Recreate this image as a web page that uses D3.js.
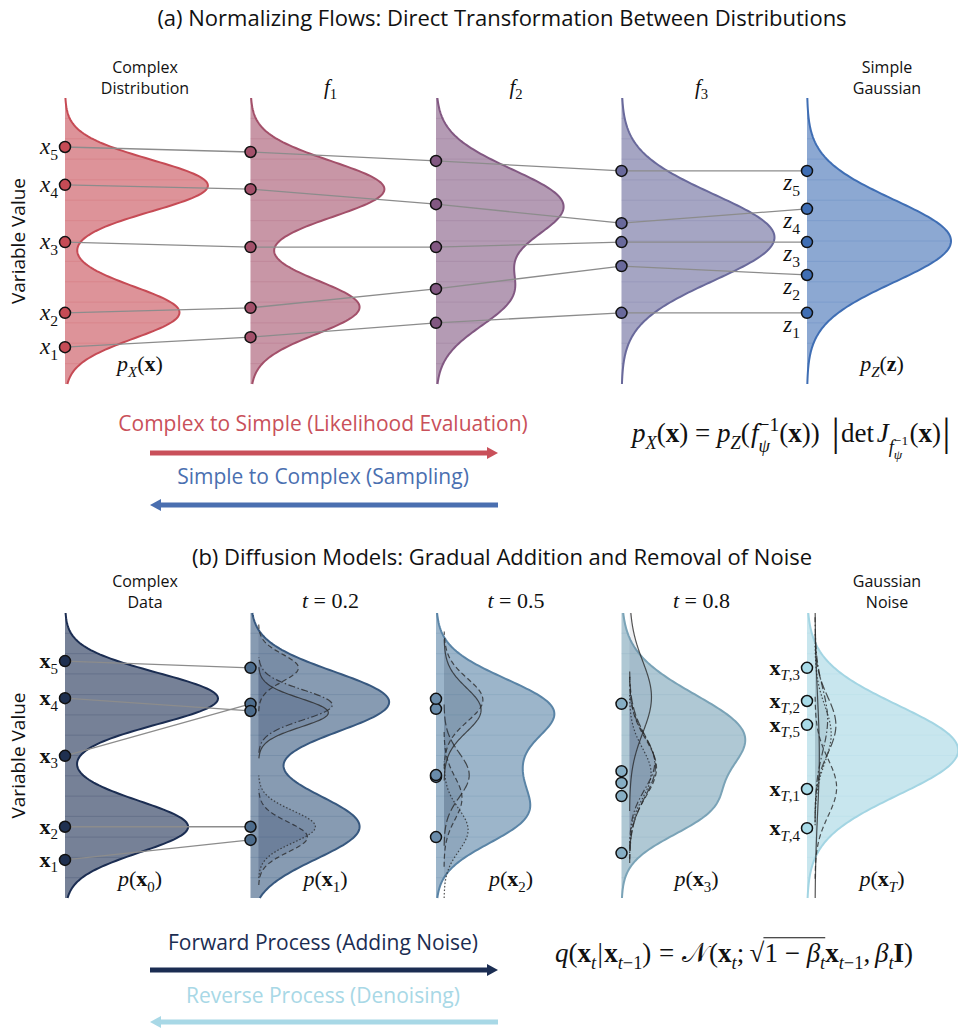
<!DOCTYPE html>
<html>
<head>
<meta charset="utf-8">
<script src="https://cdn.jsdelivr.net/npm/d3@7"></script>
<style>
  body { margin: 0; background: #fff; }
</style>
</head>
<body>
<svg id="fig" width="958" height="1030"></svg>
<script>
// ---------- data ----------
// density components per column: [amplitude, mean, sd]
const flowDensities = [
  [[0.397, 1.55, 0.72], [0.318, -2.0, 0.72]],
  [[0.372, 1.45, 0.78], [0.303, -1.85, 0.75]],
  [[0.35, 1.0, 1.0], [0.2, -1.5, 0.9]],
  [[0.425, 0.1, 1.2]],
  [[0.4, 0.0, 1.15]]
];
const diffDensities = [
  [[0.425, 1.6, 0.72], [0.342, -2.0, 0.72]],
  [[0.385, 1.5, 0.85], [0.303, -2.0, 0.9]],
  [[0.32, 1.25, 0.9], [0.23, -1.7, 0.8], [0.12, -0.4, 0.7]],
  [[0.34, 0.5, 1.2], [0.17, -1.6, 0.75]],
  [[0.42, 0.15, 1.25]]
];
// sample positions (samples 1..5) in each column
const flowPoints = [
  [-2.97, -2.01, -0.03, 1.57, 2.63],
  [-2.69, -1.87, -0.17, 1.45, 2.49],
  [-2.29, -1.34, -0.17, 1.03, 2.24],
  [-2.01, -0.70, -0.03, 0.50, 1.96],
  [-2.01, -0.95, -0.03, 0.90, 1.96]
];
const diffPoints = [
  [-2.93, -2.0, -0.01, 1.61, 2.65],
  [-2.37, -2.0, 1.45, 1.25, 2.46],
  [-0.6, -2.29, -0.55, 1.31, 1.59],
  [-1.14, -2.74, -0.77, -0.44, 1.45],
  [-0.94, 1.53, 2.46, -2.04, 0.86]
];
// per-sample noise bumps in diffusion columns 1..4: [amplitude, mean, sd, lineStyle]
const diffBumps = [
  [],
  [[0.136, -2.29, 0.42, 1], [0.158, -2.0, 0.45, 3], [0.205, 1.42, 0.42, 2], [0.194, 1.2, 0.4, 0], [0.111, 2.46, 0.38, 1]],
  [[0.05, -1.2, 0.6, 1], [0.067, -2.09, 0.6, 3], [0.07, -0.55, 0.62, 4], [0.103, 1.28, 0.62, 0], [0.108, 1.56, 0.6, 1]],
  [[0.072, -0.3, 0.85, 4], [0.06, -0.5, 0.7, 3], [0.07, -0.2, 0.75, 2], [0.061, 1.64, 1.0, 0], [0.075, -0.35, 0.8, 1]],
  [[0.012, 0.0, 1.6, 0], [0.06, -0.9, 0.8, 1], [0.035, 1.0, 0.9, 2], [0.045, 0.6, 0.8, 3], [0.058, 0.85, 0.8, 4]]
];
const bumpFillOpacity = [0, 0.12, 0.1, 0.07, 0.04];
const gridVals = [-3.43, -2.86, -2.29, -1.71, -1.14, -0.57, 0, 0.57, 1.14, 1.71, 2.29, 2.86, 3.43];
const flowHeaders = [["Complex", "Distribution"], "1", "2", "3", ["Simple", "Gaussian"]];
const diffHeaders = [["Complex", "Data"], "0.2", "0.5", "0.8", ["Gaussian", "Noise"]];
const diffSubs = ["0", "1", "2", "3", "T"];
const sampleIds = ["1", "2", "3", "4", "5"];

// ---------- styling ----------
const serif = "'Liberation Serif', 'Times New Roman', serif";
const sans = "'Open Sans', 'DejaVu Sans', sans-serif";
const flowColors = ["#c64b55", "#a3506a", "#825882", "#69699b", "#3f6eb4"];
const diffColors = ["#1b2d52", "#37587f", "#5a84a6", "#7aa3b7", "#a3d5e3"];
const diffPointColors = ["#1f3050", "#4d6c8c", "#6a8cab", "#86aec4", "#a8dbe8"];
const dashes = ["none", "5,3", "7,2.5,1.5,2.5", "1.5,2", "9,3"];

const svg = d3.select("#fig");
const xa = d3.scalePoint().domain(d3.range(5)).range([65, 807]);
const ya = d3.scaleLinear().domain([-4, 4]).range([384, 98]);
const yb = d3.scaleLinear().domain([-4, 4]).range([898, 613]);
const w = d3.scaleLinear().domain([0, 0.4]).range([0, 144]);
const vals = d3.range(-4, 4.0001, 0.04);

const dens = (comps, v) => d3.sum(comps, c => c[0] * Math.exp(-0.5 * ((v - c[1]) / c[2]) ** 2));

function mathText(parent, x, y, size, parts, anchor, color) {
  const t = parent.append("text").attr("x", x).attr("y", y)
    .attr("font-family", serif).attr("font-size", size)
    .attr("text-anchor", anchor || "start").attr("fill", color || "#111");
  let cur = 0, prevLen = 0, pending = 0;
  const nodes = [];
  parts.forEach(p => {
    const off = (p.o || 0) * size;
    const ts = t.append("tspan").text(p.t)
      .attr("font-size", (p.s || 1) * size)
      .attr("dy", off - cur);
    cur = off;
    if (p.i) ts.attr("font-style", "italic");
    if (p.b) ts.attr("font-weight", "bold");
    if (p.f) ts.attr("font-family", p.f);
    let dx = (p.dx || 0) * size + pending;
    pending = 0;
    if (p.under) dx -= prevLen;
    ts.attr("dx", dx);
    const len = ts.node().getComputedTextLength();
    if (p.under) pending = Math.max(0, prevLen - len);
    prevLen = len;
    nodes.push(ts.node());
  });
  return nodes;
}

function sansText(parent, x, y, size, str, anchor, color) {
  return parent.append("text").attr("x", x).attr("y", y)
    .attr("font-family", sans).attr("font-size", size)
    .attr("text-anchor", anchor || "middle").attr("fill", color || "#111").text(str);
}

function drawColumn(g, i, comps, color, y, op) {
  const x0 = xa(i);
  const fx = v => x0 + w(dens(comps, v));
  g.append("path").datum(vals)
    .attr("d", d3.area().y(v => y(v)).x0(x0).x1(fx))
    .attr("fill", color).attr("fill-opacity", op);
  g.selectAll(null).data(gridVals).join("line")
    .attr("x1", x0).attr("x2", fx)
    .attr("y1", v => y(v)).attr("y2", v => y(v))
    .attr("stroke", color).attr("stroke-opacity", 0.18).attr("stroke-width", 1);
  g.append("path").datum(vals)
    .attr("d", d3.line().y(v => y(v)).x(fx))
    .attr("fill", "none").attr("stroke", color).attr("stroke-width", 2);
}

function drawBumps(g, i, bumps, y) {
  const base = xa(i) + 8;
  bumps.forEach(([a, m, s, st]) => {
    const lo = Math.max(-4, m - 3.2 * s), hi = Math.min(4, m + 3.2 * s);
    const vs = d3.range(lo, hi, 0.02).concat([hi]);
    const f = v => base + w(a * Math.exp(-0.5 * ((v - m) / s) ** 2));
    g.append("path").datum(vs)
      .attr("d", d3.area().y(v => y(v)).x0(base).x1(f))
      .attr("fill", "#1b2d52").attr("fill-opacity", bumpFillOpacity[i]);
    g.append("path").datum(vs)
      .attr("d", d3.line().y(v => y(v)).x(f))
      .attr("fill", "none").attr("stroke", "#2b2b2b").attr("stroke-width", 1.2)
      .attr("stroke-opacity", 0.8).attr("stroke-dasharray", dashes[st]);
  });
}

function drawLinks(g, pts, y, upto) {
  for (let c = 0; c < upto; c++) {
    pts[c].forEach((v, k) => {
      g.append("line")
        .attr("x1", xa(c)).attr("y1", y(v))
        .attr("x2", xa(c + 1)).attr("y2", y(pts[c + 1][k]))
        .attr("stroke", "#8c8c8c").attr("stroke-width", 1.3);
    });
  }
}

function drawPoints(g, pts, y, fills) {
  pts.forEach((col, c) => {
    g.selectAll(null).data(col).join("circle")
      .attr("cx", xa(c)).attr("cy", v => y(v)).attr("r", 5.5)
      .attr("fill", fills[c]).attr("stroke", "#111").attr("stroke-width", 1.5);
  });
}

function arrow(g, y, xl, xr, dir, color) {
  const tipX = dir > 0 ? xr : xl;
  const baseX = tipX - dir * 11;
  g.append("line").attr("x1", dir > 0 ? xl : baseX).attr("x2", dir > 0 ? baseX : xr)
    .attr("y1", y).attr("y2", y).attr("stroke", color).attr("stroke-width", 5);
  g.append("path")
    .attr("d", d3.line()([[tipX, y], [baseX, y - 6], [baseX, y + 6]]) + "Z")
    .attr("fill", color);
}

// ---------- panel (a) ----------
const ga = svg.append("g");
sansText(ga, 502, 26, 22, "(a) Normalizing Flows: Direct Transformation Between Distributions");
ga.append("text").attr("transform", `translate(25,${ya(0)}) rotate(-90)`)
  .attr("font-family", sans).attr("font-size", 19).attr("text-anchor", "middle")
  .attr("fill", "#111").text("Variable Value");

flowDensities.forEach((comps, i) => drawColumn(ga, i, comps, flowColors[i], ya, 0.6));
drawLinks(ga, flowPoints, ya, 4);
drawPoints(ga, flowPoints, ya, flowColors);

flowHeaders.forEach((h, i) => {
  const cx = xa(i) + 80;
  if (Array.isArray(h)) {
    sansText(ga, cx, 73, 16, h[0]);
    sansText(ga, cx, 94, 16, h[1]);
  } else {
    mathText(ga, cx, 94, 21, [{ t: "f", i: 1 }, { t: h, s: 0.7, o: 0.25 }], "middle");
  }
});

flowPoints[0].forEach((v, k) =>
  mathText(ga, xa(0) - 7, ya(v) + 7, 23, [{ t: "x", i: 1 }, { t: sampleIds[k], s: 0.68, o: 0.25 }], "end"));
flowPoints[4].forEach((v, k) =>
  mathText(ga, xa(4) - 7, ya(v) + 19, 23, [{ t: "z", i: 1 }, { t: sampleIds[k], s: 0.68, o: 0.25 }], "end"));

mathText(ga, xa(0) + 75, 371, 22,
  [{ t: "p", i: 1 }, { t: "X", i: 1, s: 0.68, o: 0.25 }, { t: "(" }, { t: "x", b: 1 }, { t: ")" }], "middle");
mathText(ga, xa(4) + 75, 371, 22,
  [{ t: "p", i: 1 }, { t: "Z", i: 1, s: 0.68, o: 0.25 }, { t: "(" }, { t: "z", b: 1 }, { t: ")" }], "middle");

sansText(ga, 323, 431, 21, "Complex to Simple (Likelihood Evaluation)", "middle", "#c9505a");
arrow(ga, 453, 150, 498, 1, "#c9505a");
sansText(ga, 323, 484, 21, "Simple to Complex (Sampling)", "middle", "#4a6fb0");
arrow(ga, 505, 150, 498, -1, "#4a6fb0");

mathText(ga, 632, 442, 27, [
  { t: "p", i: 1 }, { t: "X", i: 1, s: 0.68, o: 0.25 }, { t: "(" }, { t: "x", b: 1 }, { t: ")" },
  { t: "=", dx: 0.25 }, { t: "p", i: 1, dx: 0.25 }, { t: "Z", i: 1, s: 0.68, o: 0.25 }, { t: "(" }, { t: "f", i: 1, dx: 0.05 },
  { t: "\u22121", s: 0.72, o: -0.42 }, { t: "\u03c8", i: 1, s: 0.68, o: 0.36, under: 1 },
  { t: "(" }, { t: "x", b: 1 }, { t: "))" },
  { t: "|", s: 1.45, o: 0.1, dx: 0.45 }, { t: "det", dx: 0.05 }, { t: "J", i: 1, dx: 0.1 },
  { t: "f", i: 1, s: 0.68, o: 0.4 }, { t: "\u22121", s: 0.5, o: 0.12 },
  { t: "\u03c8", i: 1, s: 0.5, o: 0.62, under: 1 },
  { t: "(", dx: 0.05 }, { t: "x", b: 1 }, { t: ")" }, { t: "|", s: 1.45, o: 0.1, dx: 0.05 }
]);

// ---------- panel (b) ----------
const gb = svg.append("g");
sansText(gb, 502, 565, 22, "(b) Diffusion Models: Gradual Addition and Removal of Noise");
gb.append("text").attr("transform", `translate(25,${yb(0)}) rotate(-90)`)
  .attr("font-family", sans).attr("font-size", 19).attr("text-anchor", "middle")
  .attr("fill", "#111").text("Variable Value");

diffDensities.forEach((comps, i) => drawColumn(gb, i, comps, diffColors[i], yb, 0.6));
diffBumps.forEach((b, i) => drawBumps(gb, i, b, yb));
drawLinks(gb, diffPoints, yb, 1);
drawPoints(gb, diffPoints, yb, diffPointColors);

diffHeaders.forEach((h, i) => {
  const cx = xa(i) + 80;
  if (Array.isArray(h)) {
    sansText(gb, cx, 587, 16, h[0]);
    sansText(gb, cx, 608, 16, h[1]);
  } else {
    mathText(gb, cx, 608, 22, [{ t: "t", i: 1 }, { t: "=", dx: 0.25 }, { t: h, dx: 0.25 }], "middle");
  }
});

diffPoints[0].forEach((v, k) =>
  mathText(gb, xa(0) - 7, yb(v) + 7, 22, [{ t: "x", b: 1 }, { t: sampleIds[k], s: 0.68, o: 0.25 }], "end"));
diffPoints[4].forEach((v, k) =>
  mathText(gb, xa(4) - 7, yb(v) + 7, 22, [{ t: "x", b: 1 }, { t: "T", i: 1, s: 0.68, o: 0.25 },
    { t: "," + sampleIds[k], s: 0.68, o: 0.25 }], "end"));

diffSubs.forEach((s, i) =>
  mathText(gb, xa(i) + 75, 886, 22, [{ t: "p", i: 1 }, { t: "(" }, { t: "x", b: 1 },
    { t: s, i: s === "T" ? 1 : 0, s: 0.68, o: 0.25 }, { t: ")" }], "middle"));

sansText(gb, 323, 950, 21, "Forward Process (Adding Noise)", "middle", "#1b2d52");
arrow(gb, 970, 150, 498, 1, "#1b2d52");
sansText(gb, 323, 1003, 21, "Reverse Process (Denoising)", "middle", "#a8d8e6");
arrow(gb, 1022, 150, 498, -1, "#a8d8e6");

const fb = 27, yb0 = 962;
const nb = mathText(gb, 555, yb0, fb, [
  { t: "q", i: 1 }, { t: "(" }, { t: "x", b: 1 }, { t: "t", i: 1, s: 0.68, o: 0.25 },
  { t: "|", dx: 0.05 }, { t: "x", b: 1, dx: 0.05 }, { t: "t", i: 1, s: 0.68, o: 0.25 }, { t: "\u22121", s: 0.68, o: 0.25 },
  { t: ")" }, { t: "=", dx: 0.28 }, { t: "\ud835\udca9", f: "'DejaVu Serif', 'DejaVu Sans', serif", dx: 0.28 }, { t: "(", dx: 0.05 },
  { t: "x", b: 1 }, { t: "t", i: 1, s: 0.68, o: 0.25 }, { t: ";" },
  { t: "\u221a", dx: 0.2 }, { t: "1 \u2212 " }, { t: "\u03b2", i: 1 }, { t: "t", i: 1, s: 0.68, o: 0.25 },
  { t: "x", b: 1 }, { t: "t", i: 1, s: 0.68, o: 0.25 }, { t: "\u22121", s: 0.68, o: 0.25 },
  { t: "," }, { t: "\u03b2", i: 1, dx: 0.18 }, { t: "t", i: 1, s: 0.68, o: 0.25 }, { t: "I", b: 1 }, { t: ")" }
]);
// overline of the square root
const sq = nb[15], rEnd = nb[18];
const ox0 = sq.getEndPositionOfChar(0).x - 1;
const ox1 = rEnd.getEndPositionOfChar(0).x;
gb.append("line").attr("x1", ox0).attr("x2", ox1).attr("y1", yb0 - 0.9 * fb).attr("y2", yb0 - 0.9 * fb)
  .attr("stroke", "#111").attr("stroke-width", 1.1);
</script>
</body>
</html>
